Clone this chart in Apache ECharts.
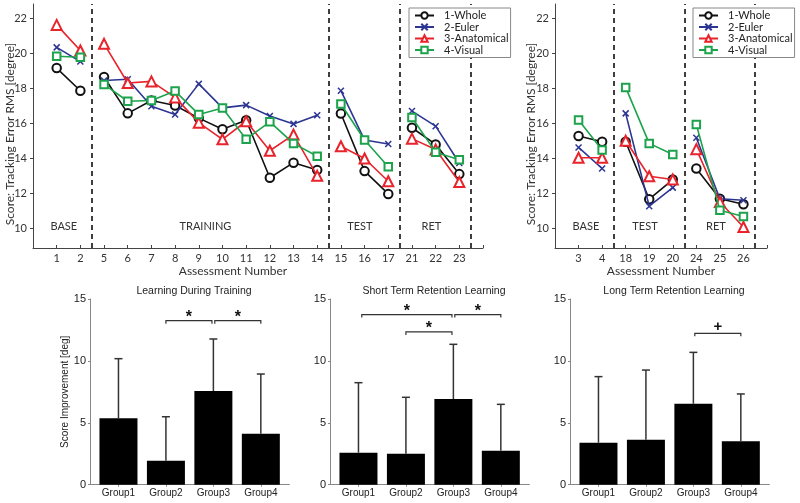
<!DOCTYPE html>
<html><head><meta charset="utf-8">
<script src="https://cdn.jsdelivr.net/npm/echarts@6/dist/echarts.min.js"></script>
<style>html,body{margin:0;padding:0;background:#fff}#c{width:800px;height:503px}</style>
</head><body><div id="c"></div>
<script>
// ---------- data ----------
const seriesNames = ['1-Whole', '2-Euler', '3-Anatomical', '4-Visual'];

const leftLabels = ['1','2','5','6','7','8','9','10','11','12','13','14','15','16','17','21','22','23'];
const leftWhole  = [19.15,17.86,18.64,16.57,17.30,17.02,16.30,15.66,16.18,12.90,13.76,13.34,16.56,13.28,11.98,15.75,14.80,13.11];
const leftEuler  = [20.33,19.52,18.44,18.51,16.97,16.51,18.25,16.88,17.04,16.42,15.97,16.46,17.86,15.05,14.82,16.70,15.84,13.74];
const leftAnat   = [21.61,20.15,20.53,18.30,18.39,17.48,16.04,15.09,16.12,14.44,15.36,13.01,14.70,14.00,12.70,15.13,14.51,12.66];
const leftVisual = [19.82,19.77,18.22,17.26,17.30,17.84,16.51,16.88,15.10,16.09,14.86,14.13,17.10,15.05,13.53,16.33,14.36,13.93];
const leftDividers = [1.5, 11.5, 14.5, 17.5];
const leftPhases = [['BASE', 0.3], ['TRAINING', 6.28], ['TEST', 12.8], ['RET', 15.82]];

const rightLabels = ['3','4','18','19','20','24','25','26'];
const rightWhole  = [15.28,14.95,14.95,11.68,12.80,13.43,11.71,11.39];
const rightEuler  = [14.63,13.43,16.57,11.28,12.34,15.18,11.71,11.62];
const rightAnat   = [14.04,14.04,15.01,12.99,12.80,14.53,11.52,10.10];
const rightVisual = [16.19,14.48,18.05,14.86,14.23,15.94,11.05,10.70];
const rightDividers = [1.5, 4.5, 7.5];
const rightPhases = [['BASE', 0.31], ['TEST', 2.82], ['RET', 5.83]];
const phaseLabelY = 10.1;

const topYTicks = [10, 12, 14, 16, 18, 20, 22];
const topYName = 'Score: Tracking Error RMS [degree]';
const topXName = 'Assessment Number';

const groups = ['Group1', 'Group2', 'Group3', 'Group4'];
const trainMean = [5.36, 1.94, 7.57, 4.12];
const trainSD   = [4.82, 3.55, 4.20, 4.82];
const shortMean = [2.59, 2.50, 6.92, 2.75];
const shortSD   = [5.65, 4.56, 4.42, 3.74];
const longMean  = [3.39, 3.64, 6.54, 3.50];
const longSD    = [5.34, 5.62, 4.15, 3.83];
// significance brackets: [from group, to group, height, mark]
const trainSig = [[2, 2.97, 13.25, '*'], [3.03, 4, 13.25, '*']];
const shortSig = [[1.07, 2.97, 13.74, '*'], [2, 2.97, 12.34, '*'], [3.03, 4, 13.74, '*']];
const longSig  = [[3.03, 4, 12.23, '+']];
const barTitles = ['Learning During Training', 'Short Term Retention Learning', 'Long Term Retention Learning'];

// ---------- style ----------
const colors = ['#111111', '#2c3592', '#e8232b', '#1ca34c'];
const symbols = ['emptyCircle', 'path://M0,0L10,10M10,0L0,10', 'emptyTriangle', 'emptyRect'];
const symbolSizes = [8.5, 6, 10, 7.5];
const topFont = 'Lato';
const botFont = 'Liberation Sans';

function withBreaks(vals, dividers) {
  const out = [];
  vals.forEach((v, i) => {
    if (i > 0 && dividers.some(d => d > i - 1 && d < i)) out.push([i - 0.5, null]);
    out.push([i, v]);
  });
  return out;
}

function lineSeries(idx, vals, dividers, axisIdx, withMark) {
  const s = {
    name: seriesNames[idx], type: 'line', xAxisIndex: axisIdx, yAxisIndex: axisIdx,
    data: withBreaks(vals, dividers), connectNulls: false,
    symbol: symbols[idx], symbolSize: symbolSizes[idx], showAllSymbol: true,
    lineStyle: { color: colors[idx], width: 1.6 },
    itemStyle: { color: colors[idx], borderColor: colors[idx], borderWidth: 1.5 },
    emphasis: { disabled: true }, z: 3 + idx
  };
  if (withMark) {
    s.markLine = {
      silent: true, symbol: 'none', label: { show: false },
      lineStyle: { color: '#000', type: [5, 4], width: 1.5 },
      data: dividers.map(d => ({ xAxis: d }))
    };
  }
  return s;
}

function phaseSeries(phases, axisIdx) {
  return {
    type: 'custom', xAxisIndex: axisIdx, yAxisIndex: axisIdx, silent: true,
    data: phases.map(p => [p[1], phaseLabelY, p[0]]),
    renderItem: (params, api) => {
      const pt = api.coord([api.value(0), api.value(1)]);
      return { type: 'text', x: pt[0], y: pt[1], style: { text: phases[params.dataIndex][0], textAlign: 'center', textVerticalAlign: 'middle', font: '11px ' + topFont, fill: '#333' } };
    }
  };
}

function barSeries(mean, axisIdx) {
  return {
    type: 'bar', xAxisIndex: axisIdx, yAxisIndex: axisIdx, barWidth: 38,
    data: mean.map((m, i) => [i + 1, m]), itemStyle: { color: '#000' }, silent: true, z: 2
  };
}
function errSeries(mean, sd, axisIdx) {
  return {
    type: 'custom', xAxisIndex: axisIdx, yAxisIndex: axisIdx, silent: true, z: 3,
    data: mean.map((m, i) => [i + 1, m, sd[i]]),
    renderItem: (params, api) => {
      const x = api.value(0), m = api.value(1), s = api.value(2);
      const p0 = api.coord([x, m]), p1 = api.coord([x, m + s]);
      const st = { stroke: '#333', lineWidth: 1.5 };
      return { type: 'group', children: [
        { type: 'line', shape: { x1: p0[0], y1: p0[1], x2: p1[0], y2: p1[1] }, style: st },
        { type: 'line', shape: { x1: p1[0] - 4, y1: p1[1], x2: p1[0] + 4, y2: p1[1] }, style: st }
      ] };
    }
  };
}
function sigSeries(sig, axisIdx) {
  return {
    type: 'custom', xAxisIndex: axisIdx, yAxisIndex: axisIdx, silent: true, z: 3,
    data: sig.map(s => [s[0], s[1], s[2]]),
    renderItem: (params, api) => {
      const a = api.coord([api.value(0), api.value(2)]);
      const b = api.coord([api.value(1), api.value(2)]);
      const mark = sig[params.dataIndex][3];
      return { type: 'group', children: [
        { type: 'polyline', shape: { points: [[a[0], a[1] + 3], [a[0], a[1]], [b[0], b[1]], [b[0], b[1] + 3]] }, style: { stroke: '#333', lineWidth: 1.2, fill: null } },
        { type: 'text', x: (a[0] + b[0]) / 2, y: a[1] + (mark === '*' ? 5 : 1), style: { text: mark, textAlign: 'center', textVerticalAlign: 'bottom', font: 'bold ' + (mark === '*' ? 16 : 15) + 'px ' + botFont, fill: '#111' } }
      ] };
    }
  };
}

// ---------- axes ----------
function topXAxis(grid, max, labels, nameOffset) {
  return {
    type: 'value', gridIndex: grid, min: -1, max: max, interval: 1,
    axisLine: { show: true, onZero: false, lineStyle: { color: '#444', width: 1 } },
    splitLine: { show: false },
    axisTick: { show: true, inside: true, length: 3, lineStyle: { color: '#444' } },
    axisLabel: { margin: 5, fontFamily: topFont, fontSize: 11, color: '#333', formatter: v => (labels[v] !== undefined ? labels[v] : ''), showMinLabel: true, showMaxLabel: true },
    name: topXName, nameLocation: 'middle', nameGap: 15,
    nameTextStyle: { fontFamily: topFont, fontSize: 12, color: '#333', padding: [0, nameOffset, 0, 0] }
  };
}
function topYAxis(grid) {
  return {
    type: 'value', gridIndex: grid, min: 8.9, max: 22.8,
    axisLine: { show: true, onZero: false, lineStyle: { color: '#444', width: 1 } },
    splitLine: { show: false },
    axisTick: { show: true, inside: false, length: 3, customValues: topYTicks, lineStyle: { color: '#444' } },
    axisLabel: { margin: 6, fontFamily: topFont, fontSize: 11, color: '#333', customValues: topYTicks }
  };
}
function botXAxis(grid) {
  return {
    type: 'value', gridIndex: grid, min: 0.4, max: 4.6,
    axisLine: { show: true, onZero: false, lineStyle: { color: '#888' } }, splitLine: { show: false },
    axisTick: { show: true, inside: false, length: 2, customValues: [1, 2, 3, 4], lineStyle: { color: '#888' } },
    axisLabel: { margin: 4, fontFamily: botFont, fontSize: 10, color: '#222', customValues: [1, 2, 3, 4], formatter: v => groups[Math.round(v) - 1] }
  };
}
function botYAxis(grid, named) {
  const a = {
    type: 'value', gridIndex: grid, min: 0, max: 15, interval: 5,
    axisLine: { show: true, onZero: false, lineStyle: { color: '#888' } }, splitLine: { show: false },
    axisTick: { show: true, inside: false, length: 2, lineStyle: { color: '#888' } },
    axisLabel: { margin: 4, fontFamily: botFont, fontSize: 11, color: '#222' }
  };
  if (named) {
    a.name = 'Score Improvement [deg]'; a.nameLocation = 'middle'; a.nameGap = 18;
    a.nameTextStyle = { fontFamily: botFont, fontSize: 10, color: '#222' };
  }
  return a;
}

function legendAt(left) {
  return {
    left: left, top: 8, orient: 'vertical', data: seriesNames,
    itemWidth: 19, itemHeight: 8, itemGap: 0.5, padding: [2, 2, 2, 5],
    borderColor: '#888', borderWidth: 1, backgroundColor: '#fff',
    selectedMode: false, z: 10,
    textStyle: { fontFamily: topFont, fontSize: 11, color: '#222', lineHeight: 10, padding: [0, 0, 0, 5] }
  };
}

function yNameText(x, y) {
  return { type: 'text', x: x, y: y, rotation: Math.PI / 2, silent: true,
    style: { text: topYName, textAlign: 'center', textVerticalAlign: 'middle', font: '12px ' + topFont, fill: '#333' } };
}

const gridBase = { outerBoundsMode: 'none', containLabel: false };
const chart = echarts.init(document.getElementById('c'), null, { renderer: 'canvas' });
const option = {
  animation: false,
  backgroundColor: '#fff',
  title: barTitles.map((t, i) => ({
    text: t, left: [189, 429, 669][i], top: 281, textAlign: 'center',
    textStyle: { fontFamily: botFont, fontSize: 10.5, fontWeight: 'normal', color: '#222' }
  })),
  legend: [legendAt(409), legendAt(693)],
  graphic: [yNameText(10, 134), yNameText(531, 134)],
  grid: [
    Object.assign({ left: 33, top: 4, width: 450, height: 244 }, gridBase),
    Object.assign({ left: 555, top: 4, width: 212, height: 244 }, gridBase),
    Object.assign({ left: 90, top: 299, width: 199.3, height: 185.7 }, gridBase),
    Object.assign({ left: 330, top: 299, width: 199.3, height: 185.7 }, gridBase),
    Object.assign({ left: 570, top: 299, width: 199.3, height: 185.7 }, gridBase)
  ],
  xAxis: [topXAxis(0, 18, leftLabels, 50), topXAxis(1, 8, rightLabels, 0), botXAxis(2), botXAxis(3), botXAxis(4)],
  yAxis: [topYAxis(0), topYAxis(1), botYAxis(2, true), botYAxis(3, false), botYAxis(4, false)],
  series: [
    lineSeries(0, leftWhole, leftDividers, 0, true),
    lineSeries(1, leftEuler, leftDividers, 0, false),
    lineSeries(2, leftAnat, leftDividers, 0, false),
    lineSeries(3, leftVisual, leftDividers, 0, false),
    phaseSeries(leftPhases, 0),
    lineSeries(0, rightWhole, rightDividers, 1, true),
    lineSeries(1, rightEuler, rightDividers, 1, false),
    lineSeries(2, rightAnat, rightDividers, 1, false),
    lineSeries(3, rightVisual, rightDividers, 1, false),
    phaseSeries(rightPhases, 1),
    barSeries(trainMean, 2), errSeries(trainMean, trainSD, 2), sigSeries(trainSig, 2),
    barSeries(shortMean, 3), errSeries(shortMean, shortSD, 3), sigSeries(shortSig, 3),
    barSeries(longMean, 4), errSeries(longMean, longSD, 4), sigSeries(longSig, 4)
  ]
};
chart.setOption(option);
</script>
</body></html>
